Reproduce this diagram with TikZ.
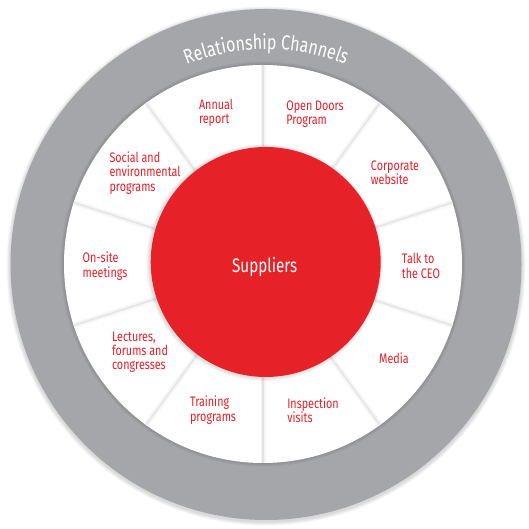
\documentclass[tikz,border=0pt]{standalone}
\usepackage{fontspec}
\newfontfamily\lab{Fira Sans}[FakeStretch=0.78]
\usetikzlibrary{decorations.text,calc}
\definecolor{ringgray}{RGB}{165,166,170}
\definecolor{supred}{RGB}{230,34,40}
\definecolor{labred}{RGB}{232,30,40}
\begin{document}
\begin{tikzpicture}[x=1pt,y=1pt,
  lbl/.style={text=labred, font=\lab\fontsize{13.8}{14.2}\selectfont, align=left, inner sep=0pt},
  divider/.style={draw=black!11, line width=1.2pt},
  dividershade/.style={draw=black!4, line width=5pt},
  softshadow/.style={fill=black, opacity=0.03}]
\useasboundingbox (0,0) rectangle (529,529);
\coordinate (oc) at (266,264.5);
\coordinate (wc) at (263,265);
\coordinate (rc) at (265.7,267);
% outer ring with soft shadow
\foreach \i in {1,...,5} \fill[softshadow] (266,263) circle ({255.5+\i*0.8});
\fill[ringgray] (oc) circle (255.5);
% white disc
\foreach \i in {1,...,4} \fill[softshadow] (wc) circle ({199+\i*0.9});
\fill[white] (wc) circle (199);
% dividers
\foreach \a in {90,54,18,-18,-54,-90,-126,-162,-198,-234} {
  \draw[dividershade] ($(wc)+(\a:100)$) -- ($(wc)+(\a:199)$);
  \draw[divider] ($(wc)+(\a:100)$) -- ($(wc)+(\a:199)$);
}
% red centre
\foreach \i in {1,...,4} \fill[softshadow] ($(rc)+(-1,-0.5)$) circle ({115+\i*0.9});
\fill[supred] (rc) circle (115);
\node[text=white, font=\lab\fontsize{19.5}{20}\selectfont, anchor=base, inner sep=0pt] (sup) at (264.7,256.7) {Suppliers};
% curved title
\path[decorate, decoration={text along path, text={|\lab\fontsize{20.5}{20.5}\selectfont|Relationship Channels}, text align=center, text color=white}] (oc) ++(150:215) arc (150:30:215);
% labels
\node[lbl] (l1) at (216,416) {Annual\\report};
\node[lbl] (l2) at (315,415) {Open Doors\\Program};
\node[lbl] (l3) at (395,356) {Corporate\\website};
\node[lbl] (l4) at (421,263) {Talk to\\the CEO};
\node[lbl] (l5) at (394,171) {Media};
\node[lbl] (l6) at (313,119) {Inspection\\visits};
\node[lbl] (l7) at (213,119) {Training\\programs};
\node[lbl] (l8) at (140,177) {Lectures,\\forums and\\congresses};
\node[lbl] (l9) at (105,263) {On-site\\meetings};
\node[lbl] (l10) at (145,356) {Social and\\environmental\\programs};
\end{tikzpicture}
\end{document}
